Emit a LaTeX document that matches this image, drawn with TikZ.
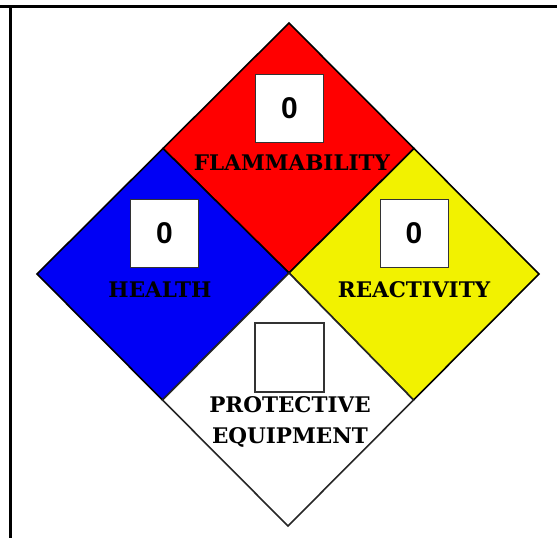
\documentclass[tikz,border=0pt]{standalone}
\usepackage{fontspec}
\usetikzlibrary{calc}
\newfontfamily\labelfont{DejaVu Serif}
\newfontfamily\digitfont{Liberation Sans}
\definecolor{nfpared}{RGB}{255,0,0}
\definecolor{nfpablue}{RGB}{0,0,245}
\definecolor{nfpayellow}{RGB}{242,242,0}
\begin{document}
\begin{tikzpicture}[x=1pt,y=-1pt,
  quad/.style={draw=black,line width=1.6pt,line join=miter},
  ratingbox/.style={draw=black!80,line width=1pt,fill=white,minimum width=68pt,minimum height=68pt,inner sep=0pt},
  emptybox/.style={draw=black!80,line width=1.3pt,fill=white,minimum width=69pt,minimum height=69pt,inner sep=0pt},
  digit/.style={font=\digitfont\bfseries\fontsize{30}{30}\selectfont,inner sep=0pt},
  hazlabel/.style={font=\labelfont\bfseries\fontsize{21.5}{31}\selectfont,inner sep=0pt,align=center,text=black}]
\useasboundingbox (0,0) rectangle (557,538);
\fill[white] (0,0) rectangle (557,538);
% frame lines
\draw[line width=2.8pt] (0,6.6) -- (557,6.6);
\draw[line width=2.6pt] (10.3,6) -- (10.3,538);
% diamond corners
\coordinate (T) at (289,23);
\coordinate (R) at (539,274);
\coordinate (B) at (288,526);
\coordinate (L) at (37,274);
\coordinate (C) at (289,273);
\coordinate (TL) at ($(T)!0.5!(L)$);
\coordinate (TR) at ($(T)!0.5!(R)$);
\coordinate (BL) at ($(B)!0.5!(L)$);
\coordinate (BR) at ($(B)!0.5!(R)$);
% quadrants
\filldraw[quad,fill=nfpared] (T) -- (TR) -- (C) -- (TL) -- cycle;
\filldraw[quad,fill=nfpablue] (TL) -- (C) -- (BL) -- (L) -- cycle;
\filldraw[quad,fill=nfpayellow] (TR) -- (R) -- (BR) -- (C) -- cycle;
\filldraw[quad,fill=white,draw=black!85] (C) -- (BR) -- (B) -- (BL) -- cycle;
% rating boxes
\node[ratingbox] (fbox) at (289.5,108.5) {};
\node[digit] (fnum) at (fbox.center) {0};
\node[hazlabel] (flab) at (292,163) {FLAMMABILITY};
\node[ratingbox] (hbox) at (164.5,233) {};
\node[digit] (hnum) at (hbox.center) {0};
\node[hazlabel] (hlab) at (160,290) {HEALTH};
\node[ratingbox] (rbox) at (414,233) {};
\node[digit] (rnum) at (rbox.center) {0};
\node[hazlabel] (rlab) at (414,290) {REACTIVITY};
\node[emptybox] (pbox) at (289.5,357.5) {};
\node[hazlabel] (plab) at (290,421.5) {PROTECTIVE\\EQUIPMENT};
\end{tikzpicture}
\end{document}
